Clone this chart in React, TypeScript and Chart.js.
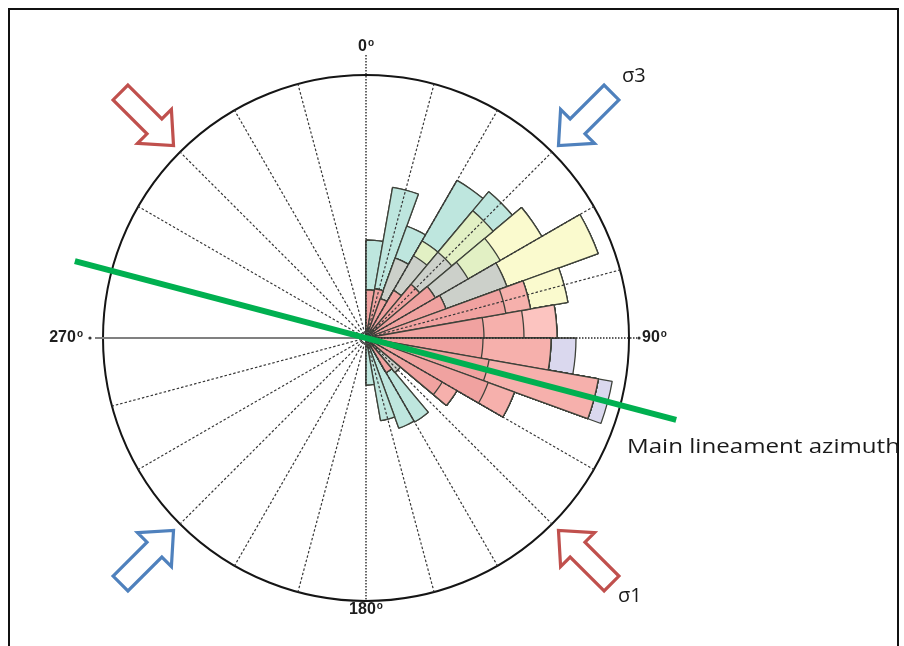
import React, { useEffect, useRef } from "react";
import { Chart, registerables } from "chart.js";

Chart.register(...registerables);

// 10° azimuth bins (clockwise from north)
const binStarts = [
  0, 10, 20, 30, 40, 50, 60, 70, 80, 90, 100, 110, 120, 130, 140, 150, 160, 170,
  180, 190, 200, 210, 220, 230, 240, 250, 260, 270, 280, 290, 300, 310, 320, 330, 340, 350,
];
const binLabels = binStarts.map((a) => `${a}–${a + 10}°`);

// Frequency per lineament class for bins 0°–180° (bins 180°–360° are empty)
const emptyHalf = [0, 0, 0, 0, 0, 0, 0, 0, 0, 0, 0, 0, 0, 0, 0, 0, 0, 0];
const pinkInner = [4.8, 5.0, 4.2, 5.5, 7.0, 8.0, 8.5, 14.2, 11.8, 11.7, 12.5, 13.0, 8.8, 0, 4.0, 0, 0, 0];
const pinkMid = [0, 0, 0, 0, 0, 0, 0, 2.5, 4.0, 6.8, 11.1, 2.8, 1.7, 0, 0, 0, 0, 0];
const pinkLight = [0, 0, 0, 0, 0, 0, 0, 0, 3.3, 0, 0, 0, 0, 0, 0, 0, 0, 0];
const grey = [0, 0, 4.3, 4.0, 4.2, 3.8, 6.5, 0, 0, 0, 0, 0, 0, 4.5, 0, 0, 0, 0];
const yellowGreen = [0, 0, 0, 1.7, 5.4, 3.7, 0, 0, 0, 0, 0, 0, 0, 0, 0, 0, 0, 0];
const paleYellow = [0, 0, 0, 0, 0, 4.8, 9.7, 3.8, 0, 0, 0, 0, 0, 0, 0, 0, 0, 0];
const teal = [5.0, 10.3, 3.4, 7.0, 2.5, 0, 0, 0, 0, 0, 0, 0, 0, 0, 5.7, 9.6, 8.4, 4.7];
const lavender = [0, 0, 0, 0, 0, 0, 0, 0, 0, 2.5, 1.4, 0, 0, 0, 0, 0, 0, 0];

const classSeries = [pinkInner, pinkMid, pinkLight, grey, yellowGreen, paleYellow, teal, lavender];
const classNames = ["Class 1", "Class 2", "Class 3", "Class 4", "Class 5", "Class 6", "Class 7", "Class 8"];
const classColors = [
  "rgb(240,162,160)",
  "rgb(246,176,172)",
  "rgb(252,196,192)",
  "rgb(204,208,202)",
  "rgb(226,240,196)",
  "rgb(250,250,206)",
  "rgb(190,230,222)",
  "rgb(218,216,238)",
];

const rMax = 26.3;
const gridStep = 15; // dashed azimuth lines every 15°
const axisLabels = ["0", "90", "180", "270"];
const lineamentAzimuth = 104.8;
const sigma1Azimuth = 135;
const sigma3Azimuth = 45;

const RED = "#C0504D";
const BLUE = "#4F81BD";

function pt(cx: number, cy: number, az: number, d: number) {
  const a = (az * Math.PI) / 180;
  return { x: cx + d * Math.sin(a), y: cy - d * Math.cos(a) };
}

function drawBlockArrow(ctx: CanvasRenderingContext2D, tail: { x: number; y: number }, tip: { x: number; y: number }, color: string) {
  const dx = tip.x - tail.x;
  const dy = tip.y - tail.y;
  const L = Math.hypot(dx, dy);
  const ang = Math.atan2(dy, dx);
  const w = 10.5;
  const h = 24;
  const hl = 27;
  ctx.save();
  ctx.translate(tail.x, tail.y);
  ctx.rotate(ang);
  ctx.beginPath();
  ctx.moveTo(0, -w);
  ctx.lineTo(L - hl, -w);
  ctx.lineTo(L - hl, -h);
  ctx.lineTo(L, 0);
  ctx.lineTo(L - hl, h);
  ctx.lineTo(L - hl, w);
  ctx.lineTo(0, w);
  ctx.closePath();
  ctx.fillStyle = "#fff";
  ctx.fill();
  ctx.lineWidth = 3.2;
  ctx.lineJoin = "miter";
  ctx.strokeStyle = color;
  ctx.stroke();
  ctx.restore();
}

// number with a small raised "o" as degree mark; align: 'left' | 'right' | 'center'
function drawDegree(ctx: CanvasRenderingContext2D, text: string, x: number, y: number, align: string) {
  const big = "bold 16px 'Liberation Sans', Arial, sans-serif";
  const small = "bold 10px 'Liberation Sans', Arial, sans-serif";
  ctx.font = big;
  const w1 = ctx.measureText(text).width;
  ctx.font = small;
  const w2 = ctx.measureText("o").width + 1;
  const total = w1 + w2;
  let x0 = x;
  if (align === "center") x0 = x - total / 2;
  else if (align === "right") x0 = x - total;
  ctx.textAlign = "left";
  ctx.textBaseline = "middle";
  ctx.font = big;
  ctx.fillText(text, x0, y);
  ctx.font = small;
  ctx.fillText("o", x0 + w1 + 1, y - 4);
}

const decorPlugin = {
  id: "roseDecor",
  beforeDatasetsDraw(chart: any) {
    const s = chart.scales.r;
    const ctx: CanvasRenderingContext2D = chart.ctx;
    const cx = s.xCenter;
    const cy = s.yCenter;
    const R = s.drawingArea;
    ctx.save();
    // frame
    ctx.strokeStyle = "#111";
    ctx.lineWidth = 2;
    ctx.strokeRect(9, 9, 889, 700);
    // west axis (solid grey)
    ctx.strokeStyle = "rgb(128,128,128)";
    ctx.lineWidth = 2;
    ctx.beginPath();
    ctx.moveTo(cx - R - 8, cy);
    ctx.lineTo(cx, cy);
    ctx.stroke();
    ctx.fillStyle = "#333";
    ctx.beginPath();
    ctx.arc(cx - R - 13, cy, 1.6, 0, Math.PI * 2);
    ctx.fill();
    ctx.restore();
  },
  afterDatasetsDraw(chart: any) {
    const s = chart.scales.r;
    const ctx: CanvasRenderingContext2D = chart.ctx;
    const cx = s.xCenter;
    const cy = s.yCenter;
    const R = s.drawingArea;
    ctx.save();
    // dashed azimuth lines
    ctx.strokeStyle = "rgb(55,55,55)";
    ctx.lineWidth = 1.2;
    ctx.setLineDash([2.5, 2]);
    for (let az = gridStep; az < 360; az += gridStep) {
      if (az % 90 === 0) continue;
      const p = pt(cx, cy, az, R);
      ctx.beginPath();
      ctx.moveTo(cx, cy);
      ctx.lineTo(p.x, p.y);
      ctx.stroke();
    }
    // N-S axis dotted
    ctx.strokeStyle = "rgb(40,40,40)";
    ctx.lineWidth = 1.4;
    ctx.setLineDash([1.5, 1.5]);
    ctx.beginPath();
    ctx.moveTo(cx, cy - R - 20);
    ctx.lineTo(cx, cy + R);
    ctx.stroke();
    // east axis dotted
    ctx.beginPath();
    ctx.moveTo(cx, cy);
    ctx.lineTo(cx + R + 8, cy);
    ctx.stroke();
    ctx.setLineDash([]);
    ctx.fillStyle = "#333";
    ctx.beginPath();
    ctx.arc(cx + R + 10, cy, 1.6, 0, Math.PI * 2);
    ctx.fill();
    // centre ring
    ctx.strokeStyle = "rgb(90,90,90)";
    ctx.lineWidth = 1;
    ctx.beginPath();
    ctx.arc(cx, cy, 6, 0, Math.PI * 2);
    ctx.stroke();
    // main lineament azimuth
    const a = pt(cx, cy, lineamentAzimuth + 180, R * 1.145);
    const b = pt(cx, cy, lineamentAzimuth, R * 1.22);
    ctx.strokeStyle = "#00B050";
    ctx.lineWidth = 6;
    ctx.lineCap = "butt";
    ctx.beginPath();
    ctx.moveTo(a.x, a.y);
    ctx.lineTo(b.x, b.y);
    ctx.stroke();
    ctx.restore();
  },
  afterDraw(chart: any) {
    const s = chart.scales.r;
    const ctx: CanvasRenderingContext2D = chart.ctx;
    const cx = s.xCenter;
    const cy = s.yCenter;
    const R = s.drawingArea;
    ctx.save();
    // degree labels
    ctx.fillStyle = "#1e1e1e";
    drawDegree(ctx, axisLabels[0], cx, cy - R - 28, "center");
    drawDegree(ctx, axisLabels[2], cx, cy + R + 9, "center");
    drawDegree(ctx, axisLabels[1], cx + R + 13, cy, "left");
    drawDegree(ctx, axisLabels[3], cx - R - 20, cy, "right");

    // stress arrows (pointing toward the centre)
    const tipD = R * 1.035;
    const tailD = tipD + 75;
    const arrows = [
      { az: sigma1Azimuth, color: RED },
      { az: sigma1Azimuth + 180, color: RED },
      { az: sigma3Azimuth, color: BLUE },
      { az: sigma3Azimuth + 180, color: BLUE },
    ];
    for (const ar of arrows) {
      drawBlockArrow(ctx, pt(cx, cy, ar.az, tailD), pt(cx, cy, ar.az, tipD), ar.color);
    }

    // text annotations
    ctx.fillStyle = "#1a1a1a";
    ctx.textAlign = "left";
    ctx.textBaseline = "middle";
    ctx.font = "20px 'Open Sans', 'DejaVu Sans', sans-serif";
    ctx.fillText("σ3", cx + 256, cy - 262);
    ctx.fillText("σ1", cx + 252, cy + 258);

    const label = "Main lineament azimuth";
    ctx.font = "20px 'Open Sans', 'DejaVu Sans', sans-serif";
    const w = ctx.measureText(label).width;
    const target = 273;
    ctx.translate(cx + 261, cy + 109);
    ctx.scale(target / w, 1);
    ctx.fillText(label, 0, 0);
    ctx.restore();
  },
};

export default function App() {
  const ref = useRef<HTMLCanvasElement>(null);

  useEffect(() => {
    const canvas = ref.current;
    if (!canvas) return;
    const full = classSeries.map((s) => s.concat(emptyHalf));
    // cumulative radii so that inner classes are drawn on top of outer ones
    const cumulative = full.map((_, k) =>
      binStarts.map((_, i) => {
        let sum = 0;
        for (let j = 0; j <= k; j++) sum += full[j][i];
        return Math.round(sum * 100) / 100;
      })
    );
    const chart = new Chart(canvas, {
      type: "polarArea",
      data: {
        labels: binLabels,
        datasets: cumulative.map((data, k) => ({
          label: classNames[k],
          data,
          backgroundColor: classColors[k],
          borderColor: "rgb(62,66,58)",
          borderWidth: (c: any) => (c.raw > 0 ? 1.3 : 0),
        })),
      },
      options: {
        responsive: false,
        animation: false,
        layout: { padding: { left: 103, right: 275, top: 75, bottom: 45 } },
        plugins: { legend: { display: false }, tooltip: { enabled: false } },
        scales: {
          r: {
            min: 0,
            max: rMax,
            startAngle: 0,
            ticks: { display: false, stepSize: rMax },
            grid: { circular: true, color: "#151515", lineWidth: 2 },
            angleLines: { display: false },
            pointLabels: { display: false },
          },
        },
      } as any,
      plugins: [decorPlugin],
    });
    return () => chart.destroy();
  }, []);

  return (
    <div style={{ position: "fixed", left: 0, top: 0, width: 904, height: 646, background: "#fff" }}>
      <canvas ref={ref} width={904} height={646} style={{ display: "block", width: 904, height: 646 }} />
    </div>
  );
}
